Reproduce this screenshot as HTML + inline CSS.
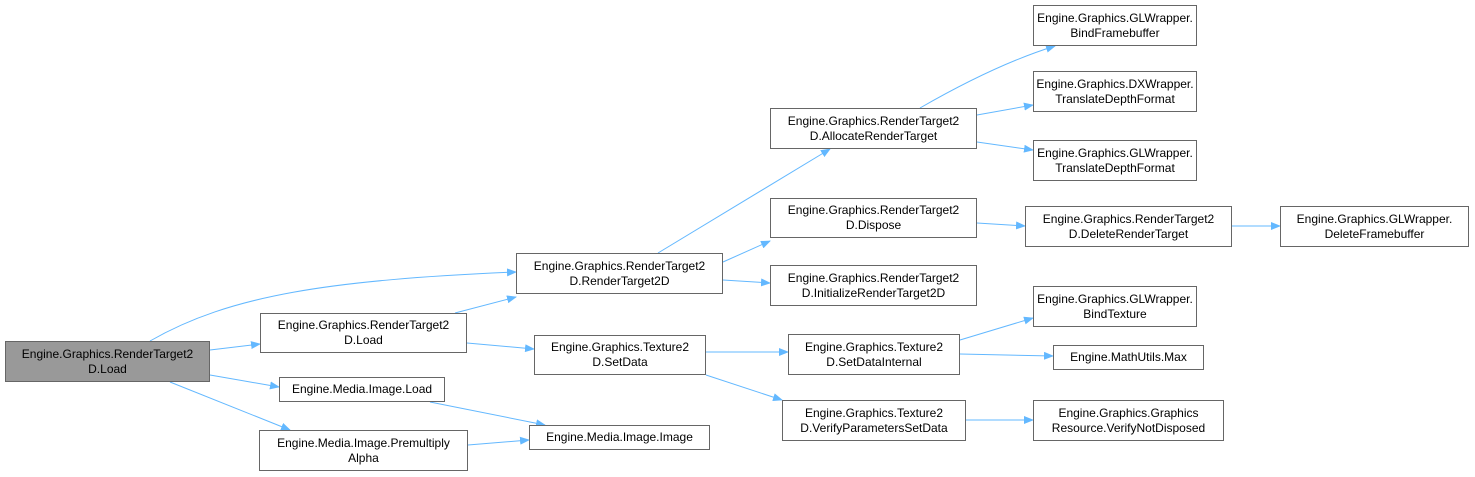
<!DOCTYPE html>
<html><head><meta charset="utf-8"><style>
body{margin:0;background:#fff;width:1475px;height:477px;overflow:hidden;position:relative;font-family:"Liberation Sans",Arial,sans-serif;}
.b{position:absolute;box-sizing:border-box;border:1px solid #666;background:#fff;font-size:12px;line-height:15px;color:#000;text-align:center;display:flex;align-items:center;justify-content:center;white-space:nowrap;}
svg{position:absolute;left:0;top:0;}
</style></head><body>
<svg width="1475" height="477">
<defs><marker id="a" markerWidth="10" markerHeight="8" refX="9" refY="4" orient="auto" markerUnits="userSpaceOnUse"><path d="M0,0 L10,4 L0,8 z" fill="#63b8ff"/></marker></defs>
<g stroke="#63b8ff" stroke-width="1" fill="none" marker-end="url(#a)">
<path d="M150,341 C230,295 330,280 516,272"/>
<path d="M210,350 L260,344"/>
<path d="M210,375 L279,387"/>
<path d="M170,382 L290,430"/>
<path d="M455,313 L516,297"/>
<path d="M467,343 L534,349"/>
<path d="M430,402 L545,425"/>
<path d="M468,445 L529,440"/>
<path d="M658,253 L830,149"/>
<path d="M723,262 L770,241"/>
<path d="M723,280 L770,283"/>
<path d="M706,352 L788,352"/>
<path d="M706,375 L782,400"/>
<path d="M920,108 C960,85 1010,60 1055,46"/>
<path d="M977,115 L1033,105"/>
<path d="M977,142 L1033,150"/>
<path d="M977,223 L1025,226"/>
<path d="M1232,226 L1280,226"/>
<path d="M960,340 L1033,318"/>
<path d="M960,354 L1053,356"/>
<path d="M966,420 L1033,420"/>
</g></svg>
<div class="b" style="left:5px;top:341px;width:205px;height:41px;background:#999">Engine.Graphics.RenderTarget2<br>D.Load</div>
<div class="b" style="left:260px;top:313px;width:207px;height:40px">Engine.Graphics.RenderTarget2<br>D.Load</div>
<div class="b" style="left:279px;top:377px;width:166px;height:25px">Engine.Media.Image.Load</div>
<div class="b" style="left:259px;top:430px;width:209px;height:41px">Engine.Media.Image.Premultiply<br>Alpha</div>
<div class="b" style="left:516px;top:253px;width:207px;height:41px">Engine.Graphics.RenderTarget2<br>D.RenderTarget2D</div>
<div class="b" style="left:534px;top:335px;width:172px;height:40px">Engine.Graphics.Texture2<br>D.SetData</div>
<div class="b" style="left:529px;top:425px;width:181px;height:25px">Engine.Media.Image.Image</div>
<div class="b" style="left:770px;top:108px;width:207px;height:41px">Engine.Graphics.RenderTarget2<br>D.AllocateRenderTarget</div>
<div class="b" style="left:770px;top:198px;width:207px;height:40px">Engine.Graphics.RenderTarget2<br>D.Dispose</div>
<div class="b" style="left:770px;top:265px;width:207px;height:41px">Engine.Graphics.RenderTarget2<br>D.InitializeRenderTarget2D</div>
<div class="b" style="left:788px;top:334px;width:172px;height:41px">Engine.Graphics.Texture2<br>D.SetDataInternal</div>
<div class="b" style="left:782px;top:400px;width:184px;height:41px">Engine.Graphics.Texture2<br>D.VerifyParametersSetData</div>
<div class="b" style="left:1033px;top:5px;width:164px;height:41px">Engine.Graphics.GLWrapper.<br>BindFramebuffer</div>
<div class="b" style="left:1033px;top:71px;width:164px;height:41px">Engine.Graphics.DXWrapper.<br>TranslateDepthFormat</div>
<div class="b" style="left:1033px;top:140px;width:164px;height:41px">Engine.Graphics.GLWrapper.<br>TranslateDepthFormat</div>
<div class="b" style="left:1025px;top:206px;width:207px;height:41px">Engine.Graphics.RenderTarget2<br>D.DeleteRenderTarget</div>
<div class="b" style="left:1280px;top:206px;width:189px;height:41px">Engine.Graphics.GLWrapper.<br>DeleteFramebuffer</div>
<div class="b" style="left:1033px;top:286px;width:164px;height:41px">Engine.Graphics.GLWrapper.<br>BindTexture</div>
<div class="b" style="left:1053px;top:345px;width:151px;height:25px">Engine.MathUtils.Max</div>
<div class="b" style="left:1033px;top:400px;width:191px;height:41px">Engine.Graphics.Graphics<br>Resource.VerifyNotDisposed</div>
</body></html>
